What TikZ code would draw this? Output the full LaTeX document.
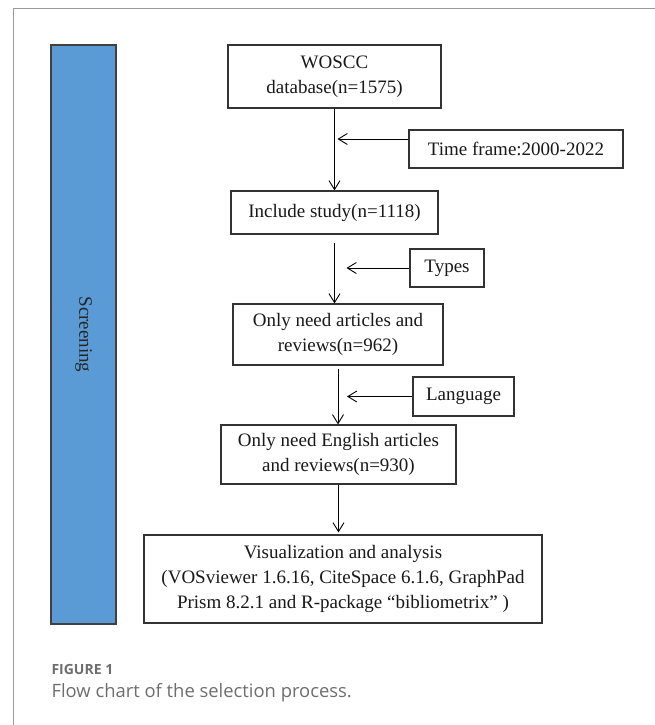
\documentclass[tikz,border=0pt]{standalone}
\usepackage{fontspec}
\setmainfont{Liberation Serif}
\newfontfamily\capfont{Open Sans}
\usepackage{tikz}
\usetikzlibrary{arrows.meta}
\definecolor{screenblue}{HTML}{5B9BD5}
\definecolor{capgray}{HTML}{6E6E6E}
\tikzset{
  flowbox/.style={draw=black!80, line width=1.1pt, fill=white, inner sep=0pt, align=center, text=black!90, font=\fontsize{19}{25}\selectfont},
  arr/.style={-{Straight Barb[length=9pt,width=11pt]}, line width=0.9pt}
}

\begin{document}
\begin{tikzpicture}[x=1pt,y=-1pt]
  \useasboundingbox (0,0) rectangle (655,725);
  \draw[gray!80, line width=1pt] (13,725) -- (13,9) -- (655,9);
  \node[draw=black!75, line width=1.1pt, fill=screenblue, minimum width=65pt, minimum height=579pt, inner sep=0pt] (scr) at (83.5,334.5) {};
  \node[rotate=-90, text=black!85, font=\fontsize{19}{25}\selectfont] (scrtext) at (scr.center) {Screening};

  \node[flowbox, minimum width=213pt, minimum height=63pt] (woscc) at (334.5,76.5) {WOSCC\\database(n=1575)};
  \node[flowbox, minimum width=214pt, minimum height=38pt] (tf) at (516,149) {Time frame:2000-2022};
  \node[flowbox, minimum width=207pt, minimum height=43pt] (incl) at (334.5,212.5) {Include study(n=1118)};
  \node[flowbox, minimum width=74pt, minimum height=38pt] (types) at (447,268) {Types};
  \node[flowbox, minimum width=210pt, minimum height=61pt] (artic) at (338,334.5) {Only need articles and\\reviews(n=962)};
  \node[flowbox, minimum width=101pt, minimum height=39pt] (lang) at (463.5,396.5) {Language};
  \node[flowbox, minimum width=235pt, minimum height=59pt] (engl) at (338.5,454.5) {Only need English articles\\and reviews(n=930)};
  \node[flowbox, minimum width=398pt, minimum height=88pt] (vis) at (343,579) {Visualization and analysis\\(VOSviewer 1.6.16, CiteSpace 6.1.6, GraphPad\\Prism 8.2.1 and R-package “bibliometrix” )};

  \draw[arr] (woscc.south) -- (incl.north);
  \draw[arr] ([yshift=-8pt]incl.south) -- (incl.south |- artic.north);
  \draw[arr, shorten <=3pt] (artic.south) -- (artic.south |- engl.north);
  \draw[arr, shorten >=2pt] (engl.south) -- (engl.south |- vis.north);
  \draw[arr] ([yshift=10pt]tf.west) -- ([xshift=3pt,yshift=10pt]tf.west -| woscc.south);
  \draw[arr] (types.west) -- ([xshift=12pt]types.west -| incl.south);
  \draw[arr] (lang.west) -- ([xshift=9pt]lang.west -| artic.south);

  \node[anchor=base west, text=capgray, font=\capfont\bfseries\fontsize{14}{16}\selectfont] (fignum) at (48,674) {FIGURE 1};
  \node[anchor=base west, text=capgray, font=\capfont\fontsize{18.4}{21}\selectfont] (figcap) at (48,697) {Flow chart of the selection process.};
\end{tikzpicture}
\end{document}
